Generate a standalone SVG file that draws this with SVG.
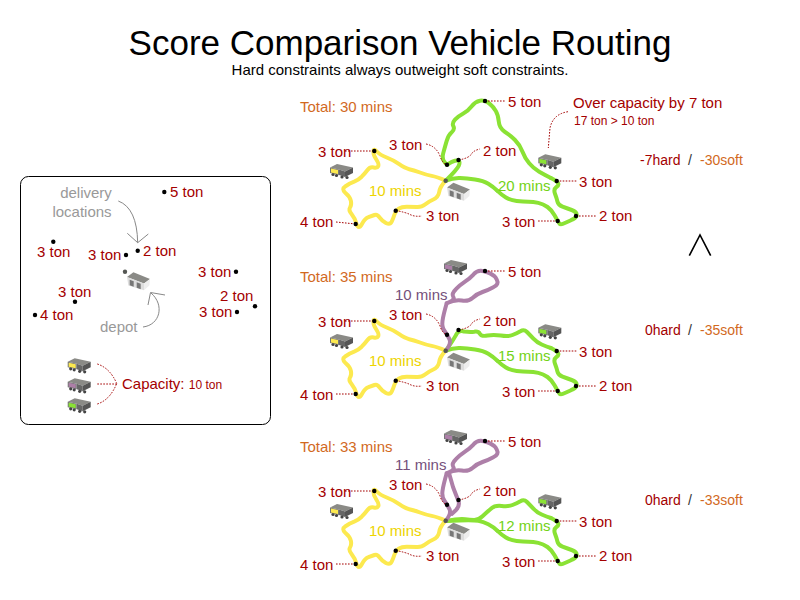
<svg xmlns="http://www.w3.org/2000/svg" xmlns:xlink="http://www.w3.org/1999/xlink" width="800" height="600" viewBox="0 0 800 600">
<style>
text{font-family:"Liberation Sans",Arial,sans-serif;font-size:15px;fill:#a40000}
.g{fill:#999}.o{fill:#d2691e}.k{fill:#000}
.s{font-size:12px}
.sc{font-size:14px}
.r{fill:none;stroke-width:4;stroke-linejoin:round;stroke-linecap:round}
.y{stroke:#fce94f}.gr{stroke:#8ae234}.p{stroke:#ad7fa8}
.l{fill:none;stroke:#a40000;stroke-width:1;stroke-dasharray:1.6 1.4}
.a{fill:none;stroke:#888;stroke-width:1}
.d{fill:#000}.dp{fill:#555753}
</style>
<defs>
<g id="truck">
<polygon points="0,3.5 7,0 23,3.5 15,7.5 9,5.5" fill="#8a8a86"/>
<polygon points="0,3.5 9,5.5 9,11 0,9" fill="#777"/>
<polygon points="9,5.5 15,7.5 15,13 9,11" fill="#666"/>
<polygon points="15,7.5 23,3.5 23,9 15,13" fill="#555"/>
<circle cx="3" cy="10.5" r="1.6" fill="#444"/><circle cx="6.5" cy="11.5" r="1.6" fill="#444"/><circle cx="12" cy="13" r="1.6" fill="#444"/><circle cx="17" cy="13.5" r="1.6" fill="#444"/>
</g>
<g id="ty"><use href="#truck"/><polygon points="1,4.5 8,6 8,10 1,8.5" fill="#fce94f"/></g>
<g id="tp"><use href="#truck"/><polygon points="1,4.5 8,6 8,10 1,8.5" fill="#ad7fa8"/></g>
<g id="tg"><use href="#truck"/><polygon points="1,4.5 8,6 8,10 1,8.5" fill="#8ae234"/></g>
<g id="depot">
<polygon points="0.3,4.7 6.7,0 23.3,6.7 17.3,11.3" fill="#8a8a86"/>
<polygon points="0.3,4.7 17.3,11.3 17.3,18 1.7,13.3" fill="#ddd"/>
<polygon points="17.3,11.3 23.3,6.7 22.7,13.3 17.3,18" fill="#eee"/>
<polygon points="3,7.5 7,9 7,14.5 3,13" fill="#777"/>
<polygon points="10,10 14,11.5 14,17 10,15.5" fill="#777"/>
</g>
<path id="yellow" class="r y" d="M445.7,180.7Q436.7,176.7 431.7,175.9Q426.7,175 420,172.5Q413.3,170 409.2,169.2Q405,168.3 399.2,164.2Q393.3,160 386.7,157.5Q380,155 376.8,151.5Q373.5,148 373.4,151.5Q373.3,155 376.3,159.5Q379.3,164 378.3,166.2Q377.3,168.3 373.7,167.5Q370,166.7 367.5,170Q365,173.3 361.7,176.7Q358.3,180 354.2,181.7Q350,183.3 345.5,186.2Q341,189 345.5,193Q350,196.7 350.9,200.9Q351.7,205 350,207.5Q348.3,210 351.7,214.2Q355,218.3 356.6,224Q358.5,230 361.8,224.2Q365,218.3 368.4,217.2Q371.7,216 374.5,215Q377.3,214 379.5,217.4Q381.7,220.7 385.9,222.9Q390,225 391.7,221.7Q393.3,218.3 394.5,214.5Q395.7,210.7 398.7,208.7Q401.7,206.7 406.7,206.7Q411.7,206.7 416.7,207Q421.7,207.3 425,204.5Q428.3,201.7 433.3,199.5Q438.3,197.3 439.2,192Q440,186.7 445.7,180.7"/>
<path id="gtail" class="r gr" d="M550.9,178Q556.7,181 558,183Q559.3,185 556.3,187.2Q553.3,189.3 555,193.8Q556.7,198.3 557.5,201.7Q558.3,205 562.5,206.7Q566.7,208.3 571.7,210Q577.5,212 576.5,216Q575.5,218.5 571,220.2Q566,222.5 562.5,224Q560,225 558.7,222.5Q557.7,221 554.7,215.5Q551.7,210 547.5,207Q543.3,204 538.3,202.9Q533.3,201.7 528.3,201.7Q523.3,201.7 516.7,200.9Q510,200 505.9,197.5Q501.7,195 497.5,190.9"/>
<path id="gback" class="r gr" d="M497.5,190.9Q493.3,186.7 488.3,183.7Q483.3,180.7 475,179.5Q466.7,178.3 460,178Q453.3,177.7 445.7,180.7"/>
<path id="ploop" class="r p" d="M446.7,303.3Q455,299.3 461.7,300.5Q468.3,301.7 472.5,297.9Q476.7,294 482.5,292Q488.3,290 493.3,287.2Q499.5,284.3 496.7,279.5Q495,275.7 490,273.4Q485,271 480.9,270.7Q476.7,270.5 473.4,274.6Q470,278.3 465,281.7Q460,285 455.9,289.2Q451.7,293.3 453,296Q455,299.3 450.5,301.5L446.7,303.3"/>
</defs>
<g id="title">
<text x="400" y="55" text-anchor="middle" class="k" style="font-size:35px">Score Comparison Vehicle Routing</text>
<text x="400" y="75" text-anchor="middle" class="k">Hard constraints always outweight soft constraints.</text>
</g>
<g id="legend">
<rect x="20.5" y="176.5" width="250" height="248" rx="8" fill="#fff" stroke="#000"/>
<text x="86" y="198" text-anchor="middle" class="g">delivery</text>
<text x="82" y="217" text-anchor="middle" class="g">locations</text>
<text x="100" y="332" class="g">depot</text>
<text x="122" y="389">Capacity: <tspan class="s">10 ton</tspan></text>
</g>
<g id="connectors">
<path class="a" d="M118.3,201Q137,208 137.7,242.7M127.3,233.3L137.7,242.7L148.3,234"/>
<path class="a" d="M143,327C160,325 165,305 151,293M165,295L150.5,292.5L148,305"/>
<path class="l" d="M97.3,364Q110,368 116.7,383.5M97.3,384H116.7M97.3,404Q110,400 116.7,383.5"/>
<use href="#yellow"/>
<use href="#yellow" y="170"/>
<use href="#yellow" y="340"/>
<path class="r gr" d="M445.7,180.7Q456.7,170 458.7,165.9Q461.5,159.5 455,160.8Q451.7,161.7 449.2,163.4Q446.7,166 444.2,161.6Q441.7,158.3 443.4,152.5Q445,146.7 446.7,140.9Q448.3,135 451.7,132.2Q455,129.3 453.4,126.3Q451.7,123.3 455,119.7Q458.3,116 463.3,113.4Q468.3,110.7 471.7,106.2Q475,101.7 480,100.7Q485,100 489.2,103.4Q493.3,106.7 495.8,110.9Q498.3,115 498.8,121.7Q499.3,128.3 504.7,131.7Q510,135 515,140Q520,145 522.5,151.7Q525,158.3 529.2,163.3Q533.3,168.3 539.2,171.7Q545,175 550.9,178"/>
<use href="#gtail"/><use href="#gback"/>
<path class="r gr" d="M445.7,351Q453.3,340 455.8,335.4Q458.3,329.5 464.2,331.5Q470,332.3 474.2,331.7Q478.3,331 480,333.9Q481.7,336.7 487.5,335.5Q493.3,334.3 500.8,335.5Q508.3,336.7 512.5,335Q516.7,333.3 520.4,331.2Q524,329 527,332Q530,335 533.4,338.7Q536.7,342.3 541.7,344.5Q546.7,346.7 550.9,348"/>
<use href="#gtail" y="170"/><use href="#gback" y="170"/>
<path class="r gr" d="M445.7,521Q460,518.3 465,519.2Q470,520 474.2,520Q478.3,520 482.5,516.2Q486.7,512.3 490.9,508.7Q495,505 501.7,505.9Q508.3,506.7 512.5,505Q516.7,503.3 520.4,501.2Q524,499 527,502Q530,505 533.4,508.7Q536.7,512.3 541.7,514.5Q546.7,516.7 550.9,518"/>
<use href="#gtail" y="340"/>
<path class="r gr" d="M497.5,530.9Q493.3,526.7 488.3,524.2Q483.3,521.7 478.3,520.9Q473.3,520 459.5,520.5L445.7,521"/>
<path class="r p" d="M445.7,351Q451.7,343.3 449.4,339Q447,334.7 444.4,330.7Q441.7,326.7 442.5,320.9Q443.3,315 446.7,303.3"/>
<use href="#ploop"/>
<path class="r p" d="M445.7,521Q451.7,513.3 449.4,509Q447,504.7 444.4,500.7Q441.7,496.7 442.5,490.9Q443.3,485 446.7,473.3"/>
<use href="#ploop" y="170"/>
<path class="r p" d="M449,473Q451,480 453,487Q456,495 458.5,501Q460,506 456,510L451.7,514"/>
<g id="leaders1"><path id="lc" class="l" d="M345,151H374M395.7,210.7Q405,212 410,214.5T422,216M426,144Q436,146 440,156Q442,163 447,165M458.7,160Q470,158 472,153Q475,150 480,149M557.7,221H538M556.7,181H577M576,216H596M485,101H505"/>
<path class="l" d="M568,111.7Q553,114 550,128L548.3,148M336,222L355.7,224M336,394H355.7M336,564H355.7"/></g>
<use href="#lc" y="170"/>
<use href="#lc" y="340"/>
</g>
<g id="legend-nodes">
<g id="loc1"><circle class="d" cx="164.3" cy="192" r="2.2"/><text x="170" y="197">5 ton</text></g>
<g id="loc2"><circle class="d" cx="53.3" cy="241.7" r="2.2"/><text x="37" y="257">3 ton</text></g>
<g id="loc3"><circle class="d" cx="126" cy="255" r="2.2"/><text x="88" y="260">3 ton</text></g>
<g id="loc4"><circle class="d" cx="137.7" cy="250.7" r="2.2"/><text x="143" y="256">2 ton</text></g>
<g id="loc5"><circle class="d" cx="236" cy="271.7" r="2.2"/><text x="198" y="277">3 ton</text></g>
<g id="loc6"><circle class="d" cx="75" cy="301.7" r="2.2"/><text x="58" y="297">3 ton</text></g>
<g id="loc7"><circle class="d" cx="255" cy="306.3" r="2.2"/><text x="220" y="301">2 ton</text></g>
<g id="loc8"><circle class="d" cx="35" cy="315" r="2.2"/><text x="40" y="320">4 ton</text></g>
<g id="loc9"><circle class="d" cx="237" cy="312" r="2.2"/><text x="199" y="317">3 ton</text></g>
<g id="legend-depot"><circle class="dp" cx="125" cy="271.7" r="2.2"/><use href="#depot" x="126.7" y="272.3"/></g>
<g id="legend-trucks"><use href="#ty" x="67.7" y="358.3"/><use href="#tp" x="67.7" y="378.3"/><use href="#tg" x="67.7" y="398.3"/></g>
</g>
<g id="panel1">
<g id="common1">
<g id="a1"><circle class="d" cx="374.3" cy="151" r="2.2"/><text x="318" y="156.5">3 ton</text></g>
<g id="a2"><circle class="d" cx="355.7" cy="224" r="2.2"/></g>
<g id="a3"><circle class="d" cx="395.7" cy="210.7" r="2.2"/><text x="426" y="221">3 ton</text></g>
<g id="a4"><circle class="d" cx="447" cy="164.7" r="2.2"/><text x="389" y="150">3 ton</text></g>
<g id="a5"><circle class="d" cx="458.5" cy="160" r="2.2"/><text x="483" y="156">2 ton</text></g>
<g id="a6"><circle class="d" cx="485" cy="101" r="2.2"/><text x="508" y="107">5 ton</text></g>
<g id="a7"><circle class="d" cx="556.7" cy="181" r="2.2"/><text x="579" y="187">3 ton</text></g>
<g id="a8"><circle class="d" cx="576" cy="216" r="2.2"/><text x="599" y="221">2 ton</text></g>
<g id="a9"><circle class="d" cx="557.7" cy="221" r="2.2"/><text x="502" y="226.7">3 ton</text></g>
<g id="a10"><circle class="dp" cx="445.7" cy="180.7" r="2.2"/><use href="#depot" x="446.7" y="182.7"/></g>
<g id="a11"><use href="#ty" x="330" y="164"/></g>
<g id="a12"><use href="#tg" x="538.3" y="154.3"/></g>
</g>
<text x="300" y="227">4 ton</text>
<text x="300" y="112" class="o">Total: 30 mins</text>
<text x="369" y="196" style="fill:#edd400">10 mins</text>
<text x="498" y="191" style="fill:#73d216">20 mins</text>
<text x="573" y="108">Over capacity by 7 ton</text>
<text x="574" y="125" class="s">17 ton &gt; 10 ton</text>
<text x="640" y="165" class="sc">-7hard</text><text x="688" y="165" class="sc" style="fill:#333">/</text><text x="700" y="165" class="o sc">-30soft</text>
</g>
<polyline id="greater" points="689.3,255.7 700,235 710.7,255.7" fill="none" stroke="#000" stroke-width="1.6"/>
<g id="panel2">
<use href="#common1" y="170"/><use href="#tp" x="444" y="260"/>
<text x="300" y="400">4 ton</text>
<text x="300" y="282" class="o">Total: 35 mins</text>
<text x="369" y="366" style="fill:#edd400">10 mins</text>
<text x="395" y="299.5" style="fill:#75507b">10 mins</text>
<text x="498" y="361" style="fill:#73d216">15 mins</text>
<text x="645" y="335" class="sc">0hard</text><text x="688" y="335" class="sc" style="fill:#333">/</text><text x="700" y="335" class="o sc">-35soft</text>
</g>
<g id="panel3">
<use href="#common1" y="340"/><use href="#tp" x="444" y="430"/>
<text x="300" y="570">4 ton</text>
<text x="300" y="452" class="o">Total: 33 mins</text>
<text x="369" y="536" style="fill:#edd400">10 mins</text>
<text x="395" y="469.5" style="fill:#75507b">11 mins</text>
<text x="498" y="531" style="fill:#73d216">12 mins</text>
<text x="645" y="505" class="sc">0hard</text><text x="688" y="505" class="sc" style="fill:#333">/</text><text x="700" y="505" class="o sc">-33soft</text>
</g>
</svg>
